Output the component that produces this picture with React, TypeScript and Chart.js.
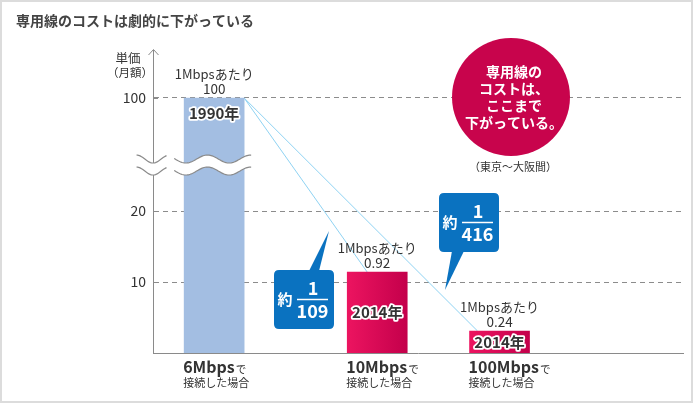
import React, { useEffect, useRef } from 'react';
import { Chart, registerables } from 'chart.js';

Chart.register(...registerables);

const FONT = '"Noto Sans CJK JP", "Noto Sans", sans-serif';

// ---- data ----
const title = '専用線のコストは劇的に下がっている';
const categories = ['6Mbps', '10Mbps', '100Mbps'];
const categorySuffix = ['で', 'で', 'で'];
const categorySubLabels = ['接続した場合', '接続した場合', '接続した場合'];
const barValues = [100, 11.4, 3.1];
const perMbpsCaption = '1Mbpsあたり';
const perMbpsValues = ['100', '0.92', '0.24'];
const yearLabels = ['1990年', '2014年', '2014年'];
const ratioPrefix = '約';
const ratioNumerator = '1';
const ratioDenominators = ['109', '416'];
const yTickValues = [10, 20, 100];
const yTickLabels = ['10', '20', '100'];
const yAxisTitle = ['単価', '（月額）'];
const noteLines = ['専用線の', 'コストは、', 'ここまで', '下がっている。'];
const noteSub = '（東京～大阪間）';

// ---- layout helpers (not data) ----
const SLOT_COUNT = 27;
const categorySlots = [3, 11, 17];
const BREAK_FROM = 20;
const BREAK_TO = 100;
const BREAK_SPAN = 15.92;
const Y_MAX = 42.68;
const toAxis = (v: number) =>
  v <= BREAK_FROM ? v : BREAK_FROM + ((v - BREAK_FROM) * BREAK_SPAN) / (BREAK_TO - BREAK_FROM);

const AXIS_COLOR = '#8a8a8a';
const TEXT_COLOR = '#333333';
const CALLOUT_BLUE = '#0a72c0';
const NOTE_RED = '#c8044c';
const LINK_BLUE = '#8fd3f3';

function barFill(c: any) {
  const k = categorySlots.indexOf(c.dataIndex);
  if (k === 0) return '#a3bee2';
  const chart = c.chart;
  if (!chart.chartArea || !chart.scales.x) return '#dc0a55';
  const x = chart.scales.x.getPixelForValue(c.dataIndex);
  const g = chart.ctx.createLinearGradient(x - 30, 0, x + 30, 0);
  g.addColorStop(0, '#ec1460');
  g.addColorStop(1, '#c4004b');
  return g;
}

function text(ctx: CanvasRenderingContext2D, s: string, x: number, y: number, font: string, color: string, align: CanvasTextAlign = 'center', baseline: CanvasTextBaseline = 'middle') {
  ctx.font = font;
  ctx.fillStyle = color;
  ctx.textAlign = align;
  ctx.textBaseline = baseline;
  ctx.fillText(s, x, y);
}

function roundRect(ctx: CanvasRenderingContext2D, x: number, y: number, w: number, h: number, r: number) {
  ctx.beginPath();
  ctx.moveTo(x + r, y);
  ctx.lineTo(x + w - r, y);
  ctx.quadraticCurveTo(x + w, y, x + w, y + r);
  ctx.lineTo(x + w, y + h - r);
  ctx.quadraticCurveTo(x + w, y + h, x + w - r, y + h);
  ctx.lineTo(x + r, y + h);
  ctx.quadraticCurveTo(x, y + h, x, y + h - r);
  ctx.lineTo(x, y + r);
  ctx.quadraticCurveTo(x, y, x + r, y);
  ctx.closePath();
}

function callout(ctx: CanvasRenderingContext2D, x: number, y: number, tail: number[][], denom: string) {
  const w = 60, h = 59;
  ctx.save();
  ctx.fillStyle = CALLOUT_BLUE;
  roundRect(ctx, x, y, w, h, 5);
  ctx.fill();
  ctx.beginPath();
  ctx.moveTo(tail[0][0], tail[0][1]);
  ctx.lineTo(tail[1][0], tail[1][1]);
  ctx.lineTo(tail[2][0], tail[2][1]);
  ctx.closePath();
  ctx.fill();
  text(ctx, ratioPrefix, x + 11, y + 29, `bold 15px ${FONT}`, '#fff');
  text(ctx, ratioNumerator, x + 39, y + 18, `bold 18px ${FONT}`, '#fff');
  ctx.strokeStyle = '#fff';
  ctx.lineWidth = 1.5;
  ctx.beginPath();
  ctx.moveTo(x + 23, y + 29.5);
  ctx.lineTo(x + 54, y + 29.5);
  ctx.stroke();
  text(ctx, denom, x + 38.5, y + 41, `bold 18px ${FONT}`, '#fff');
  ctx.restore();
}

function wavePoints(x0: number, x1: number, cy: number, amp: number, period: number, lowX: number) {
  const pts: number[][] = [];
  for (let x = x0; x <= x1 + 0.01; x += 1) {
    pts.push([x, cy + amp * Math.cos((2 * Math.PI * (x - lowX)) / period)]);
  }
  return pts;
}

function drawBreak(ctx: CanvasRenderingContext2D, x0: number, x1: number, cy: number, gap: number, period: number, lowX: number) {
  const a = wavePoints(x0, x1, cy, 4, period, lowX);
  const b = wavePoints(x0, x1, cy + gap, 4, period, lowX);
  ctx.save();
  ctx.beginPath();
  a.forEach((p, i) => (i ? ctx.lineTo(p[0], p[1]) : ctx.moveTo(p[0], p[1])));
  for (let i = b.length - 1; i >= 0; i--) ctx.lineTo(b[i][0], b[i][1]);
  ctx.closePath();
  ctx.fillStyle = '#fff';
  ctx.fill();
  ctx.strokeStyle = AXIS_COLOR;
  ctx.lineWidth = 1.2;
  [a, b].forEach((pts) => {
    ctx.beginPath();
    pts.forEach((p, i) => (i ? ctx.lineTo(p[0], p[1]) : ctx.moveTo(p[0], p[1])));
    ctx.stroke();
  });
  ctx.restore();
}

const decor = {
  id: 'decor',
  beforeDraw(chart: any) {
    const ctx = chart.ctx;
    ctx.save();
    ctx.fillStyle = '#fff';
    ctx.fillRect(0, 0, chart.width, chart.height);
    ctx.restore();
  },
  beforeDatasetsDraw(chart: any) {
    const ctx: CanvasRenderingContext2D = chart.ctx;
    const meta = chart.getDatasetMeta(0);
    const bars = categorySlots.map((s) => meta.data[s]);
    const area = chart.chartArea;
    const yS = chart.scales.y;
    // small solid tick marks
    ctx.save();
    ctx.strokeStyle = AXIS_COLOR;
    ctx.lineWidth = 1;
    yTickValues.forEach((v) => {
      const y = Math.round(yS.getPixelForValue(toAxis(v))) + 0.5;
      ctx.beginPath();
      ctx.moveTo(area.left, y);
      ctx.lineTo(area.left + 5, y);
      ctx.stroke();
    });
    // connecting lines
    const b0 = bars[0];
    const sx = b0.x + b0.width / 2;
    const sy = b0.y;
    ctx.strokeStyle = LINK_BLUE;
    ctx.lineWidth = 1;
    const ends = [
      [bars[1].x - 10, bars[1].y],
      [bars[2].x - 22, bars[2].y],
    ];
    ends.forEach(([ex, ey]) => {
      ctx.beginPath();
      ctx.moveTo(sx, sy);
      ctx.lineTo(ex, ey);
      ctx.stroke();
    });
    ctx.restore();
  },
  afterDatasetsDraw(chart: any) {
    const ctx: CanvasRenderingContext2D = chart.ctx;
    const meta = chart.getDatasetMeta(0);
    const bars = categorySlots.map((s) => meta.data[s]);
    const area = chart.chartArea;
    const yS = chart.scales.y;

    // labels above bars
    bars.forEach((b: any, k: number) => {
      text(ctx, perMbpsCaption, b.x, b.y - 24, `13px ${FONT}`, TEXT_COLOR);
      text(ctx, perMbpsValues[k], b.x, b.y - 9, `13.5px ${FONT}`, TEXT_COLOR);
    });

    // year labels with white outline
    bars.forEach((b: any, k: number) => {
      const y = k === 0 ? b.y + 15 : (b.y + b.base) / 2;
      ctx.save();
      ctx.font = `bold 15px ${FONT}`;
      ctx.textAlign = 'center';
      ctx.textBaseline = 'middle';
      ctx.lineJoin = 'round';
      ctx.strokeStyle = '#fff';
      ctx.lineWidth = 3.5;
      ctx.strokeText(yearLabels[k], b.x, y);
      ctx.fillStyle = TEXT_COLOR;
      ctx.fillText(yearLabels[k], b.x, y);
      ctx.restore();
    });

    // wavy axis break
    const y100 = yS.getPixelForValue(toAxis(BREAK_TO));
    const y20 = yS.getPixelForValue(toAxis(BREAK_FROM));
    const cy = y100 + 0.54 * (y20 - y100);
    drawBreak(ctx, area.left - 16.5, area.left + 13.5, cy, 12, 33, area.left);
    const bl = bars[0].x - bars[0].width / 2;
    const br = bars[0].x + bars[0].width / 2;
    drawBreak(ctx, bl - 10, br + 7, cy, 12, 43.3, bl + 1.7);

    // callouts
    callout(ctx, 274, 270, [[309, 271], [319, 271], [329, 231]], ratioDenominators[0]);
    callout(ctx, 439, 193, [[452, 251], [464, 251], [445, 290]], ratioDenominators[1]);

    // red circle note
    ctx.save();
    ctx.fillStyle = NOTE_RED;
    ctx.beginPath();
    ctx.arc(511, 97, 59, 0, Math.PI * 2);
    ctx.fill();
    ctx.restore();
    noteLines.forEach((s, i) => text(ctx, s, 514, 72 + i * 17, `bold 14px ${FONT}`, '#fff'));
    text(ctx, noteSub, 513, 167, `11px ${FONT}`, TEXT_COLOR);
  },
  afterDraw(chart: any) {
    const ctx: CanvasRenderingContext2D = chart.ctx;
    const meta = chart.getDatasetMeta(0);
    const bars = categorySlots.map((s) => meta.data[s]);
    const area = chart.chartArea;

    // y axis arrow
    ctx.save();
    ctx.strokeStyle = AXIS_COLOR;
    ctx.lineWidth = 1;
    ctx.beginPath();
    ctx.moveTo(area.left - 4.5, area.top + 5);
    ctx.lineTo(area.left + 0.5, area.top - 0.5);
    ctx.lineTo(area.left + 5.5, area.top + 5);
    ctx.stroke();
    ctx.restore();

    // y axis title
    text(ctx, yAxisTitle[0], 128, 58, `12.5px ${FONT}`, TEXT_COLOR);
    text(ctx, yAxisTitle[1], 130, 73, `11.5px ${FONT}`, TEXT_COLOR);

    // chart title
    text(ctx, title, 16, 21, `bold 14px ${FONT}`, '#444', 'left');

    // x labels
    bars.forEach((b: any, k: number) => {
      const lx = b.x - 31;
      ctx.font = `bold 16px ${FONT}`;
      const w = ctx.measureText(categories[k]).width;
      text(ctx, categories[k], lx, 373, `bold 16px ${FONT}`, TEXT_COLOR, 'left', 'alphabetic');
      text(ctx, categorySuffix[k], lx + w + 1, 373, `10.5px ${FONT}`, TEXT_COLOR, 'left', 'alphabetic');
      text(ctx, categorySubLabels[k], lx, 383, `11px ${FONT}`, TEXT_COLOR, 'left', 'middle');
    });

    // frame
    ctx.save();
    ctx.strokeStyle = '#dcdcdc';
    ctx.lineWidth = 2;
    ctx.strokeRect(1, 1, chart.width - 2, chart.height - 2);
    ctx.restore();
  },
};

export default function App() {
  const ref = useRef<HTMLCanvasElement>(null);
  useEffect(() => {
    document.body.style.margin = '0';
    const canvas = ref.current!;
    const labels = Array.from({ length: SLOT_COUNT }, (_, i) => {
      const k = categorySlots.indexOf(i);
      return k >= 0 ? categories[k] : '';
    });
    const data = Array.from({ length: SLOT_COUNT }, (_, i) => {
      const k = categorySlots.indexOf(i);
      return k >= 0 ? toAxis(barValues[k]) : null;
    });
    const chart = new Chart(canvas, {
      type: 'bar',
      data: {
        labels,
        datasets: [
          {
            data,
            barThickness: 60,
            backgroundColor: barFill as any,
            borderWidth: 0,
          },
        ],
      },
      options: {
        animation: false,
        responsive: false,
        devicePixelRatio: 1,
        layout: { padding: { top: 50, right: 10, left: 0, bottom: 0 } },
        plugins: { legend: { display: false }, tooltip: { enabled: false } },
        scales: {
          x: {
            type: 'category',
            offset: false,
            grid: { display: false },
            ticks: { display: false },
            border: { color: AXIS_COLOR, width: 1 },
            afterFit: (s: any) => {
              s.height = 50;
            },
          } as any,
          y: {
            min: 0,
            max: Y_MAX,
            afterBuildTicks: (s: any) => {
              s.ticks = yTickValues.map((v) => ({ value: toAxis(v) }));
            },
            ticks: {
              padding: 7,
              color: TEXT_COLOR,
              font: { family: FONT, size: 14 },
              callback: (_v: any, i: number) => yTickLabels[i],
            },
            grid: { color: '#8c8c8c', lineWidth: 1, drawTicks: false },
            border: { color: AXIS_COLOR, width: 1, dash: [5, 4] },
            afterFit: (s: any) => {
              s.width = 153;
            },
          } as any,
        },
      },
      plugins: [decor],
    });
    return () => chart.destroy();
  }, []);
  return (
    <div style={{ width: 693, height: 403 }}>
      <canvas ref={ref} width={693} height={403} style={{ display: 'block' }} />
    </div>
  );
}
